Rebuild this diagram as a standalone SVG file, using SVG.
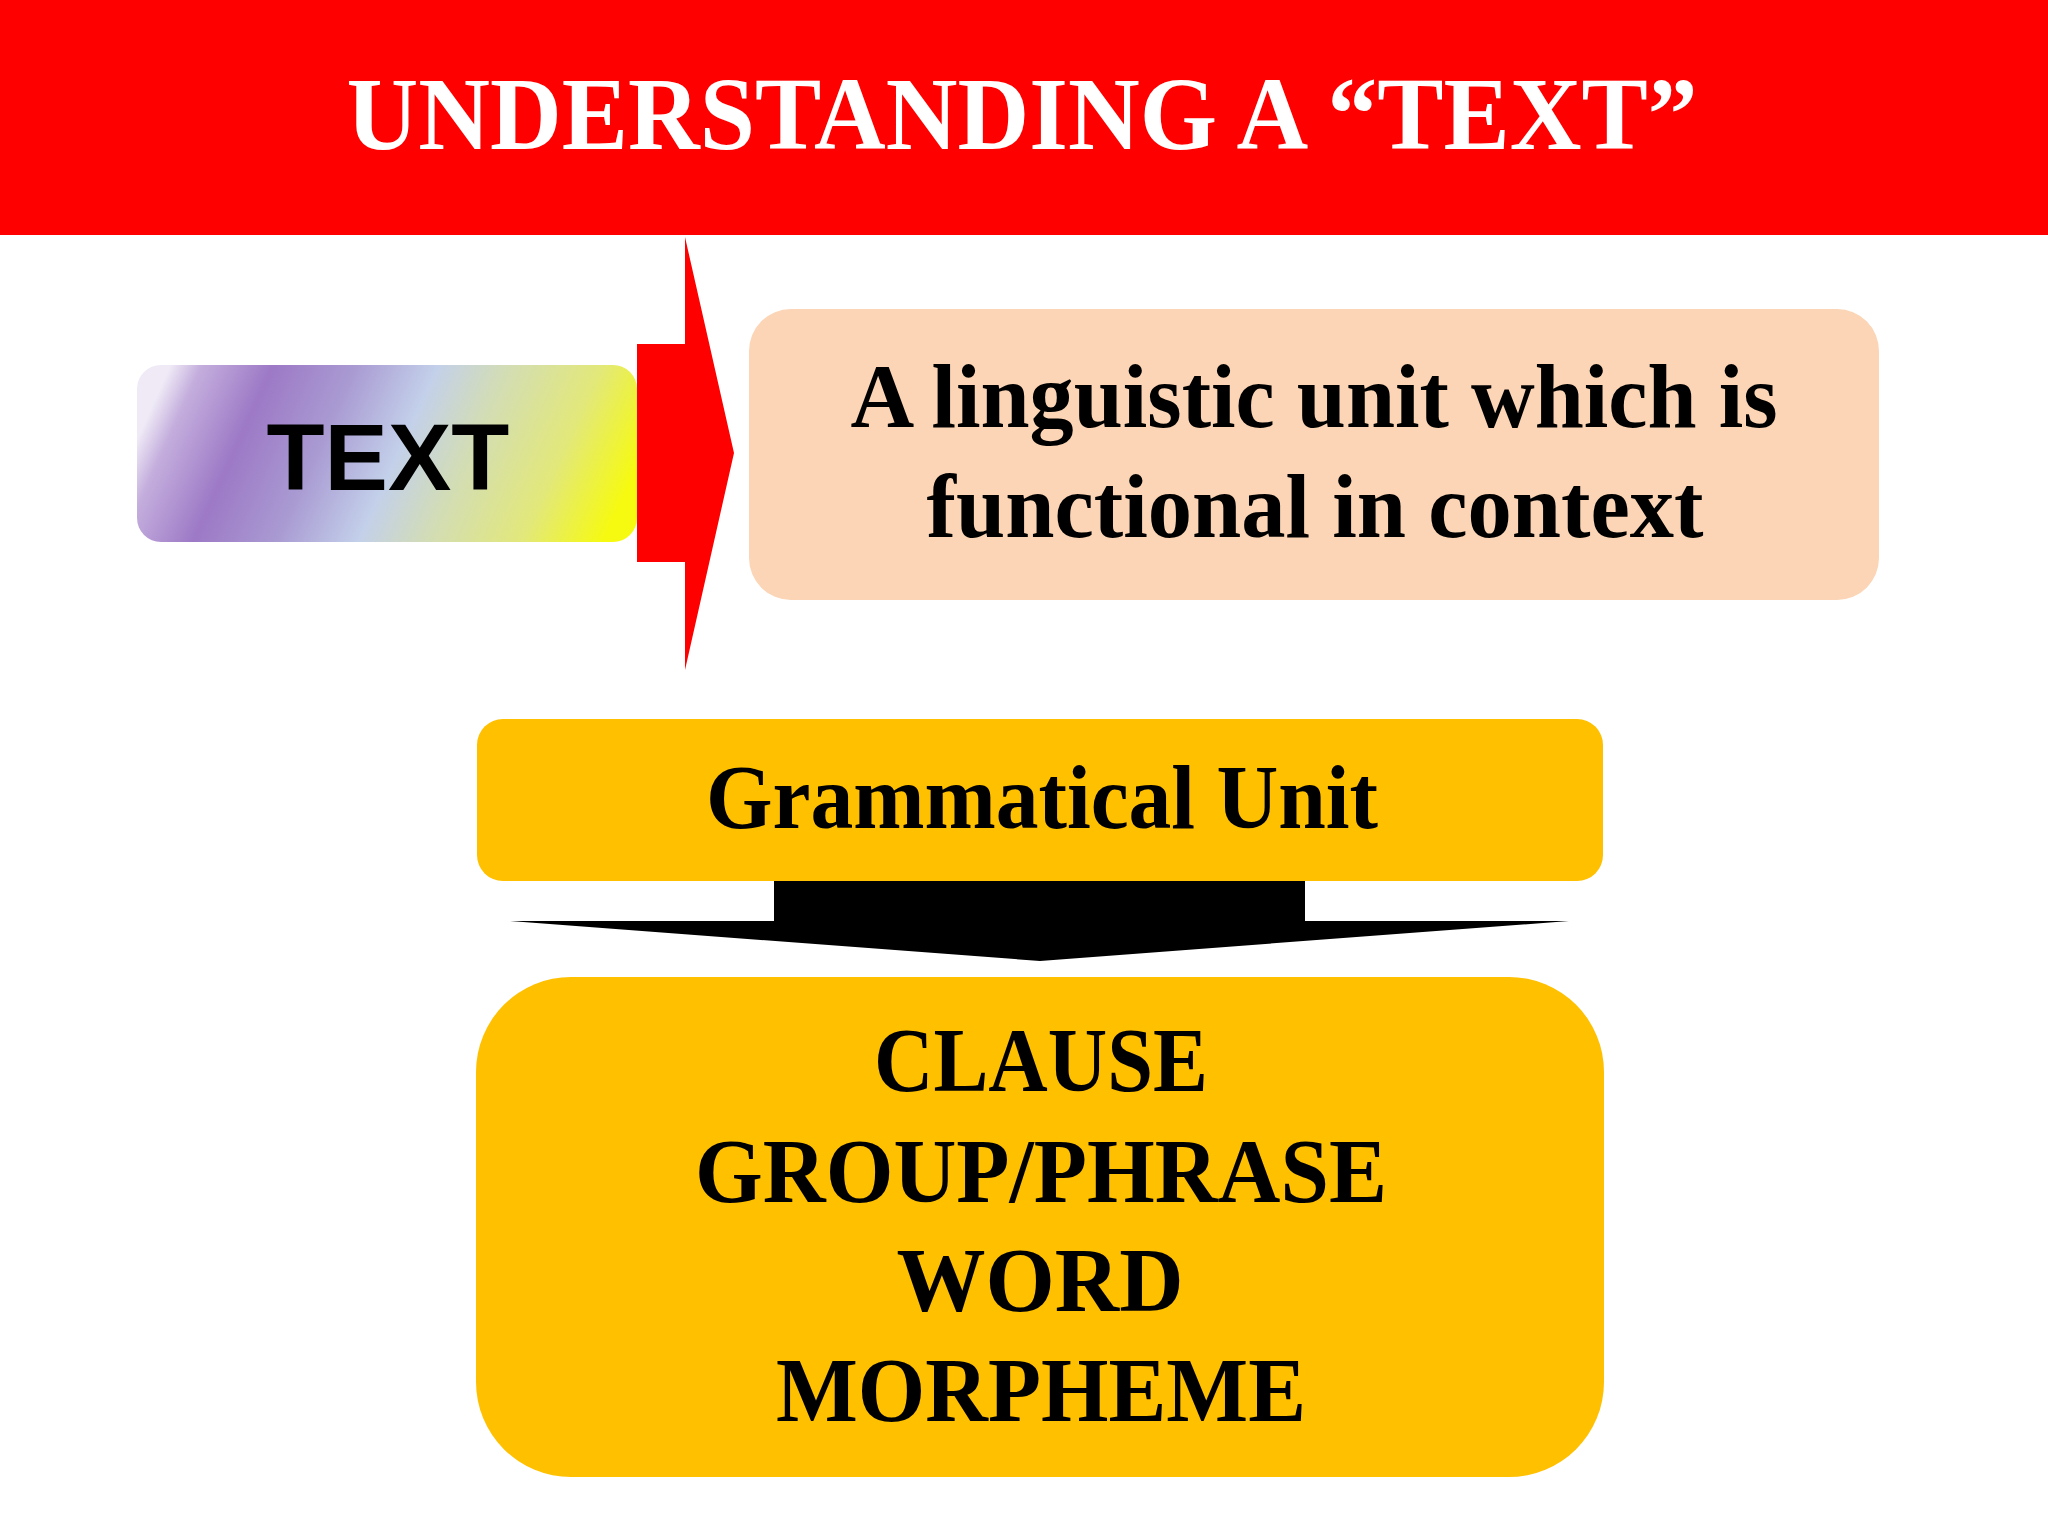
<svg xmlns="http://www.w3.org/2000/svg" width="2048" height="1536" viewBox="0 0 2048 1536">
<style>
.serif{font-family:"Liberation Serif","Times New Roman",serif;font-weight:bold;text-anchor:middle}
.dark{fill:#000}
.gold{fill:#ffc000}
</style>
<defs>
<linearGradient id="rainbow" x1="0" y1="0.42" x2="1" y2="0.58">
<stop offset="0" stop-color="#efeaf6"/>
<stop offset="0.06" stop-color="#c4aedd"/>
<stop offset="0.2" stop-color="#9d79c6"/>
<stop offset="0.36" stop-color="#a99ad2"/>
<stop offset="0.52" stop-color="#c3d0ea"/>
<stop offset="0.66" stop-color="#d3ddb4"/>
<stop offset="0.84" stop-color="#e2e87a"/>
<stop offset="1" stop-color="#f6fa10"/>
</linearGradient>
</defs>
<rect width="2048" height="1536" fill="#fff"/>
<g id="header">
<rect x="0" y="0" width="2048" height="235" fill="#ff0000"/>
<text class="serif" x="1022" y="149" font-size="104" fill="#fff" textLength="1351" lengthAdjust="spacingAndGlyphs">UNDERSTANDING A “TEXT”</text>
</g>
<g id="connectors">
<path id="red-arrow" d="M637,344 H685 V237 L734,453 L685,670 V562 H637 Z" fill="#ff0000"/>
<path id="black-arrow" d="M774,881 H1305 V921 H1569 L1040,961 L510,921 H774 Z" fill="#000"/>
</g>
<g id="node-text">
<rect x="137" y="365" width="500" height="177" rx="24" fill="url(#rainbow)"/>
<text x="388" y="490" font-family="'Liberation Sans',Arial,sans-serif" font-weight="bold" font-size="95" text-anchor="middle" fill="#000">TEXT</text>
</g>
<g id="node-definition">
<rect x="749" y="309" width="1130" height="291" rx="42" fill="#fbd5b5"/>
<text class="serif dark" x="1314" y="427" font-size="90" textLength="927" lengthAdjust="spacingAndGlyphs">A linguistic unit which is</text>
<text class="serif dark" x="1315" y="537" font-size="90" textLength="777" lengthAdjust="spacingAndGlyphs">functional in context</text>
</g>
<g id="node-grammatical-unit">
<rect class="gold" x="477" y="719" width="1126" height="162" rx="26"/>
<text class="serif dark" x="1042" y="828" font-size="92" textLength="672" lengthAdjust="spacingAndGlyphs">Grammatical Unit</text>
</g>
<g id="node-units">
<rect class="gold" x="476" y="977" width="1128" height="500" rx="95"/>
<text class="serif dark" x="1041" y="1091" font-size="92" textLength="334" lengthAdjust="spacingAndGlyphs">CLAUSE</text>
<text class="serif dark" x="1041" y="1202" font-size="92" textLength="692" lengthAdjust="spacingAndGlyphs">GROUP/PHRASE</text>
<text class="serif dark" x="1040" y="1311" font-size="92" textLength="287" lengthAdjust="spacingAndGlyphs">WORD</text>
<text class="serif dark" x="1041" y="1421" font-size="92" textLength="530" lengthAdjust="spacingAndGlyphs">MORPHEME</text>
</g>
</svg>
